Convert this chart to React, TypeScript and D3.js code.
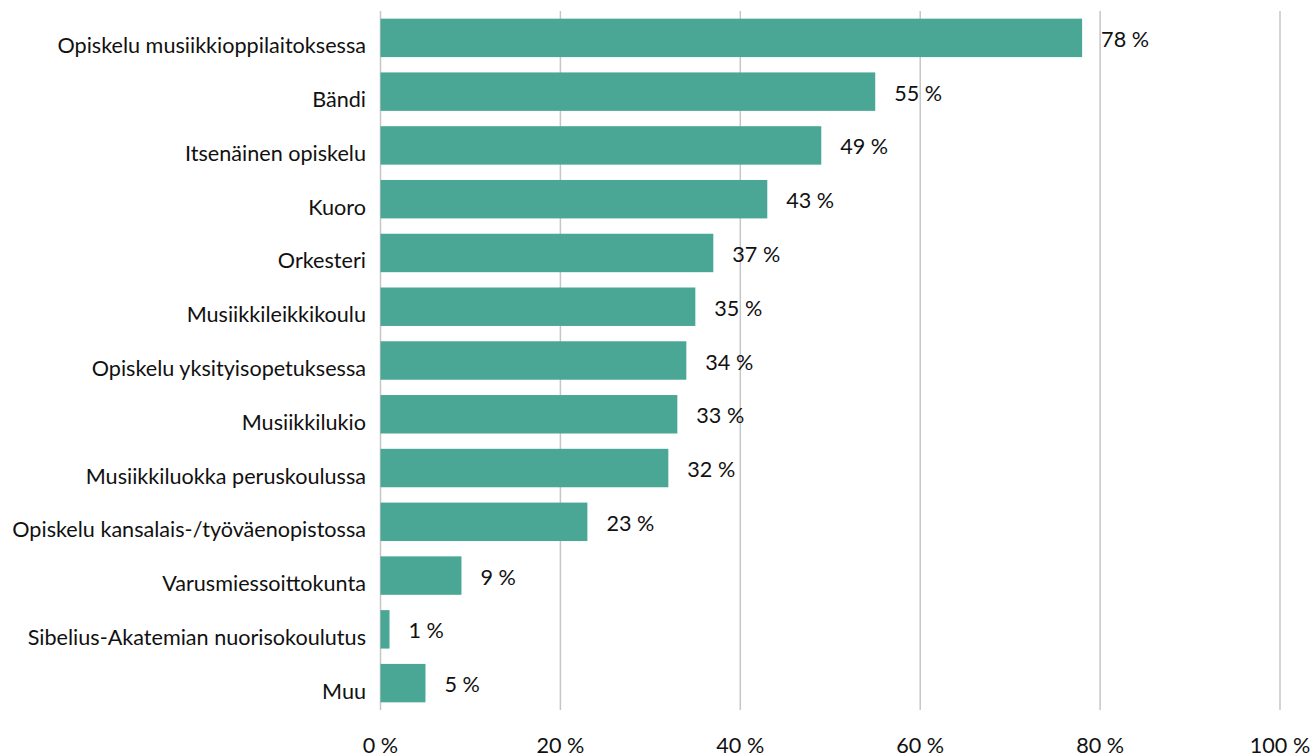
import { useEffect, useRef } from 'react';
import * as d3 from 'd3';

// Categories top to bottom, share of respondents (%)
const categories = [
  'Opiskelu musiikkioppilaitoksessa',
  'Bändi',
  'Itsenäinen opiskelu',
  'Kuoro',
  'Orkesteri',
  'Musiikkileikkikoulu',
  'Opiskelu yksityisopetuksessa',
  'Musiikkilukio',
  'Musiikkiluokka peruskoulussa',
  'Opiskelu kansalais-/työväenopistossa',
  'Varusmiessoittokunta',
  'Sibelius-Akatemian nuorisokoulutus',
  'Muu',
];
const values = [78, 55, 49, 43, 37, 35, 34, 33, 32, 23, 9, 1, 5];
const ticks = [0, 20, 40, 60, 80, 100];

const W = 1313;
const H = 756;
const FONT = 'Lato, "Open Sans", sans-serif';

export default function App(): JSX.Element {
  const svgRef = useRef<SVGSVGElement>(null);

  useEffect(() => {
    if (!svgRef.current) return;
    const svg = d3.select(svgRef.current);
    svg.selectAll('*').remove();

    const x = d3.scaleLinear().domain([0, 100]).range([380.5, 1280]);
    const y = d3.scaleBand<string>()
      .domain(categories)
      .range([11, 710])
      .paddingInner(0.285)
      .paddingOuter(0.1425);

    const data = categories.map((c, i) => ({ cat: c, v: values[i] }));

    // vertical grid lines
    svg.append('g')
      .selectAll('line')
      .data(ticks)
      .enter()
      .append('line')
      .attr('x1', d => x(d))
      .attr('x2', d => x(d))
      .attr('y1', 11)
      .attr('y2', 710)
      .attr('stroke', '#c6c6c6')
      .attr('stroke-width', 1.5);

    // bars
    svg.append('g')
      .selectAll('rect')
      .data(data)
      .enter()
      .append('rect')
      .attr('x', x(0))
      .attr('y', d => y(d.cat) || 0)
      .attr('width', d => x(d.v) - x(0))
      .attr('height', y.bandwidth())
      .attr('fill', '#4aa796');

    // value labels
    svg.append('g')
      .selectAll('text')
      .data(data)
      .enter()
      .append('text')
      .attr('x', d => x(d.v) + 19)
      .attr('y', d => (y(d.cat) || 0) + y.bandwidth() / 2 + 9)
      .attr('font-family', FONT)
      .attr('font-size', 21.6)
      .attr('fill', '#111')
      .text(d => `${d.v} %`);

    // category labels
    svg.append('g')
      .selectAll('text')
      .data(data)
      .enter()
      .append('text')
      .attr('x', 366)
      .attr('y', d => (y(d.cat) || 0) + y.bandwidth() / 2 + 15.5)
      .attr('text-anchor', 'end')
      .attr('font-family', FONT)
      .attr('font-size', 21.6)
      .attr('fill', '#111')
      .text(d => d.cat);

    // x tick labels
    svg.append('g')
      .selectAll('text')
      .data(ticks)
      .enter()
      .append('text')
      .attr('x', d => x(d))
      .attr('y', 752.5)
      .attr('text-anchor', 'middle')
      .attr('font-family', FONT)
      .attr('font-size', 21.6)
      .attr('fill', '#111')
      .text(d => `${d} %`);
  }, []);

  return (
    <svg
      ref={svgRef}
      width={W}
      height={H}
      style={{ position: 'absolute', left: 0, top: 0, background: '#fff' }}
    />
  );
}
